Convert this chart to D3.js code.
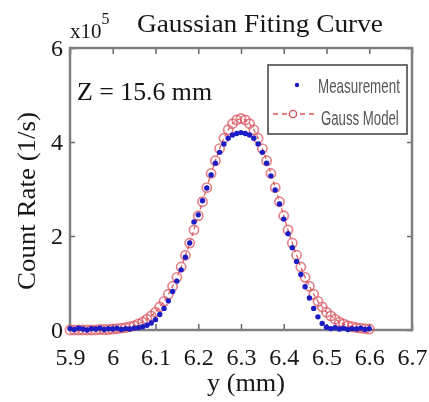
<!DOCTYPE html>
<html>
<head>
<meta charset="utf-8">
<script src="https://cdn.jsdelivr.net/npm/d3@7"></script>
<style>
  body { margin: 0; background: #fff; }
  svg { display: block; }
</style>
</head>
<body>
<div id="chart"></div>
<script>
// y position (mm)
var yPos = [5.90, 5.91, 5.92, 5.93, 5.94, 5.95, 5.96, 5.97, 5.98, 5.99,
            6.00, 6.01, 6.02, 6.03, 6.04, 6.05, 6.06, 6.07, 6.08, 6.09,
            6.10, 6.11, 6.12, 6.13, 6.14, 6.15, 6.16, 6.17, 6.18, 6.19,
            6.20, 6.21, 6.22, 6.23, 6.24, 6.25, 6.26, 6.27, 6.28, 6.29,
            6.30, 6.31, 6.32, 6.33, 6.34, 6.35, 6.36, 6.37, 6.38, 6.39,
            6.40, 6.41, 6.42, 6.43, 6.44, 6.45, 6.46, 6.47, 6.48, 6.49,
            6.50, 6.51, 6.52, 6.53, 6.54, 6.55, 6.56, 6.57, 6.58, 6.59,
            6.60];

// count rate, x1e5 (1/s)
var measured = [0.03, 0.01, 0.04, 0.02, 0.00, 0.03, 0.02, 0.04, 0.01, 0.03,
                0.02, 0.04, 0.01, 0.03, 0.02, 0.04, 0.05, 0.07, 0.10, 0.15,
                0.22, 0.33, 0.46, 0.62, 0.82, 1.04, 1.28, 1.55, 1.85, 2.30,
                2.45, 2.75, 3.02, 3.30, 3.55, 3.78, 3.96, 4.08, 4.15, 4.18,
                4.20, 4.18, 4.15, 4.08, 3.96, 3.78, 3.55, 3.28, 2.98, 2.68,
                2.36, 2.05, 1.75, 1.46, 1.18, 0.92, 0.68, 0.46, 0.28, 0.14,
                0.06, 0.03, 0.05, 0.02, 0.04, 0.01, 0.03, 0.02, 0.04, 0.01,
                0.03];

var gauss = [0.00, 0.00, 0.00, 0.00, 0.00, 0.00, 0.00, 0.01, 0.01, 0.01,
             0.02, 0.03, 0.04, 0.05, 0.07, 0.09, 0.13, 0.17, 0.23, 0.30,
             0.38, 0.49, 0.61, 0.76, 0.93, 1.12, 1.34, 1.59, 1.85, 2.13,
             2.43, 2.73, 3.03, 3.33, 3.60, 3.86, 4.08, 4.26, 4.39, 4.47,
             4.50, 4.47, 4.39, 4.26, 4.08, 3.86, 3.60, 3.33, 3.03, 2.73,
             2.43, 2.13, 1.85, 1.59, 1.34, 1.12, 0.93, 0.76, 0.61, 0.49,
             0.38, 0.30, 0.23, 0.17, 0.13, 0.09, 0.07, 0.05, 0.04, 0.03,
             0.02];

var xTicks = [5.9, 6, 6.1, 6.2, 6.3, 6.4, 6.5, 6.6, 6.7];
var yTicks = [0, 2, 4, 6];

var W = 429, H = 402;
var margin = { left: 70, right: 17, top: 48, bottom: 72 };
var width = W - margin.left - margin.right,
    height = H - margin.top - margin.bottom;

var serif = "'Liberation Serif', 'DejaVu Serif', serif";
var sans = "'Liberation Sans', Arial, sans-serif";
var ink = "#161616";

var svg = d3.select("#chart").append("svg")
    .attr("width", W)
    .attr("height", H);

// the original is a soft, blurry scan
var defs = svg.append("defs");
defs.append("filter").attr("id", "soft")
    .append("feGaussianBlur").attr("stdDeviation", 0.6);
defs.append("filter").attr("id", "softer")
    .append("feGaussianBlur").attr("stdDeviation", 0.35);

var g = svg.append("g")
    .attr("transform", "translate(" + margin.left + "," + margin.top + ")");

var x = d3.scaleLinear().domain([5.9, 6.7]).range([0, width]);
var y = d3.scaleLinear().domain([0, 6]).range([height, 0]);

var data = yPos.map(function(d, i) {
  return { pos: d, meas: measured[i], fit: gauss[i] };
});

var axes = g.append("g").attr("filter", "url(#softer)");

// inward ticks on all four sides
axes.append("g")
    .attr("transform", "translate(0," + height + ")")
    .call(d3.axisBottom(x).tickValues(xTicks).tickSize(-6).tickPadding(18).tickFormat(d3.format("")))
    .call(function(a) {
      a.select(".domain").remove();
      a.selectAll("line").attr("stroke", "#666").attr("stroke-width", 1.5);
      a.selectAll("text").attr("font-family", serif).attr("font-size", 24).attr("fill", ink);
    });

axes.append("g")
    .call(d3.axisTop(x).tickValues(xTicks).tickSize(-6).tickFormat(""))
    .call(function(a) {
      a.select(".domain").remove();
      a.selectAll("line").attr("stroke", "#666").attr("stroke-width", 1.5);
    });

axes.append("g")
    .call(d3.axisLeft(y).tickValues(yTicks).tickSize(-5).tickPadding(7).tickFormat(d3.format("d")))
    .call(function(a) {
      a.select(".domain").remove();
      a.selectAll("line").attr("stroke", "#666").attr("stroke-width", 1.5);
      a.selectAll("text").attr("font-family", serif).attr("font-size", 24).attr("fill", ink);
    });

axes.append("g")
    .attr("transform", "translate(" + width + ",0)")
    .call(d3.axisRight(y).tickValues(yTicks).tickSize(-5).tickFormat(""))
    .call(function(a) {
      a.select(".domain").remove();
      a.selectAll("line").attr("stroke", "#666").attr("stroke-width", 1.5);
    });

// frame
axes.append("rect")
    .attr("width", width)
    .attr("height", height)
    .attr("fill", "none")
    .attr("stroke", "#808080")
    .attr("stroke-width", 2.5);

var marks = g.append("g").attr("filter", "url(#soft)");

// gauss model: dashed line + open circles
var line = d3.line()
    .x(function(d) { return x(d.pos); })
    .y(function(d) { return y(d.fit); });

marks.append("path")
    .datum(data)
    .attr("d", line)
    .attr("fill", "none")
    .attr("stroke", "#d9534f")
    .attr("stroke-width", 1.2)
    .attr("stroke-dasharray", "4,3");

marks.selectAll(".fit")
    .data(data)
    .enter().append("circle")
    .attr("class", "fit")
    .attr("cx", function(d) { return x(d.pos); })
    .attr("cy", function(d) { return y(d.fit); })
    .attr("r", 4.6)
    .attr("fill", "none")
    .attr("stroke", "#d8505c")
    .attr("stroke-opacity", 0.7)
    .attr("stroke-width", 1.7);

// measurement dots
marks.selectAll(".meas")
    .data(data)
    .enter().append("circle")
    .attr("class", "meas")
    .attr("cx", function(d) { return x(d.pos); })
    .attr("cy", function(d) { return y(d.meas); })
    .attr("r", 2.7)
    .attr("fill", "#1c1cc4");

// legend
var lg = g.append("g")
    .attr("transform", "translate(198,17)")
    .attr("filter", "url(#softer)");
lg.append("rect")
    .attr("width", 139)
    .attr("height", 69)
    .attr("fill", "#fff")
    .attr("stroke", "#4a4a4a")
    .attr("stroke-width", 1.6);
lg.append("circle").attr("cx", 29).attr("cy", 20).attr("r", 2.2).attr("fill", "#1c1cc4");
// narrow, tall legend lettering: squeeze horizontally
lg.append("g").attr("transform", "translate(50,28) scale(0.67,1)")
  .append("text")
    .attr("font-family", sans).attr("font-size", 20).attr("fill", "#555")
    .text("Measurement");
lg.append("line").attr("x1", 5).attr("x2", 50).attr("y1", 49).attr("y2", 49)
    .attr("stroke", "#d9534f").attr("stroke-width", 1.4).attr("stroke-dasharray", "5,4");
lg.append("circle").attr("cx", 25).attr("cy", 49).attr("r", 3.6)
    .attr("fill", "#fff").attr("stroke", "#d8505c").attr("stroke-width", 1.4);
lg.append("g").attr("transform", "translate(53,60) scale(0.66,1)")
  .append("text")
    .attr("font-family", sans).attr("font-size", 20).attr("fill", "#555")
    .text("Gauss Model");

var labels = svg.append("g").attr("filter", "url(#softer)");

// annotation
labels.append("text")
    .attr("x", 77).attr("y", 100)
    .attr("font-family", serif).attr("font-size", 25).attr("fill", ink)
    .attr("textLength", 135).attr("lengthAdjust", "spacingAndGlyphs")
    .text("Z = 15.6 mm");

// exponent + title
var t = labels.append("text")
    .attr("x", 70).attr("y", 38)
    .attr("font-family", serif).attr("font-size", 21).attr("fill", ink);
t.append("tspan").text("x10");
t.append("tspan").attr("dy", -14).attr("font-size", 16).text("5");
labels.append("text")
    .attr("x", 137).attr("y", 32)
    .attr("font-family", serif).attr("font-size", 26).attr("fill", ink)
    .attr("textLength", 246).attr("lengthAdjust", "spacingAndGlyphs")
    .text("Gaussian Fiting Curve");

// axis titles
labels.append("text")
    .attr("x", 246).attr("y", 391)
    .attr("text-anchor", "middle")
    .attr("font-family", serif).attr("font-size", 26).attr("fill", ink)
    .attr("textLength", 78).attr("lengthAdjust", "spacingAndGlyphs")
    .text("y (mm)");

labels.append("text")
    .attr("transform", "translate(35,201) rotate(-90)")
    .attr("text-anchor", "middle")
    .attr("font-family", serif).attr("font-size", 25).attr("fill", ink)
    .attr("textLength", 178).attr("lengthAdjust", "spacingAndGlyphs")
    .text("Count Rate (1/s)");
</script>
</body>
</html>
